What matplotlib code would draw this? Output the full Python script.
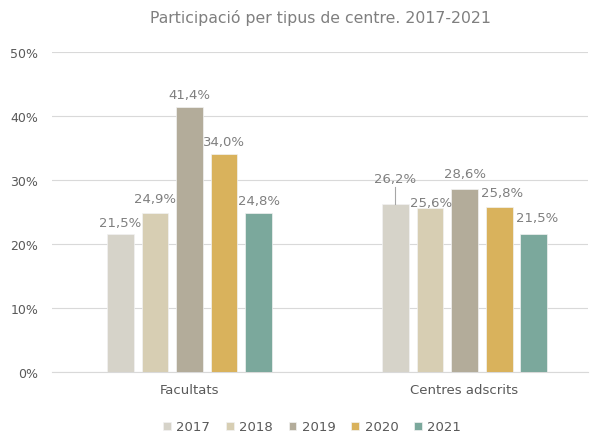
import matplotlib
matplotlib.use("Agg")
import matplotlib.pyplot as plt
import numpy as np

categories = ["Facultats", "Centres adscrits"]
years = ["2017", "2018", "2019", "2020", "2021"]
values = {
    "2017": [21.5, 26.2],
    "2018": [24.9, 25.6],
    "2019": [41.4, 28.6],
    "2020": [34.0, 25.8],
    "2021": [24.8, 21.5],
}
colors = ["#D6D3C9", "#D7CEB3", "#B3AC9A", "#D9B25C", "#7BA89C"]
title = "Participació per tipus de centre. 2017-2021"

# label offsets above bar top (pixels) per [year][category]
label_off = {
    "2017": [(0, 12), (0, 26)],
    "2018": [(0, 14), (1, 6)],
    "2019": [(0, 13), (0, 15)],
    "2020": [(0, 13), (3, 14)],
    "2021": [(0, 13), (4, 17)],
}

plt.rcParams['font.family'] = ['DejaVu Sans']
dpi = 100
fig = plt.figure(figsize=(5.9, 4.35), dpi=dpi)
ax = fig.add_axes([52/590, 1-373/435, 536/590, 320/435])

x = np.arange(len(categories))
pitch = 0.1255
width = 0.098
n = len(years)
px2pt = 72 / dpi
for i, y in enumerate(years):
    xs = x + (i - (n - 1) / 2) * pitch
    vals = np.array(values[y]) / 100
    ax.bar(xs, vals, width, color=colors[i], label=y, zorder=3,
           edgecolor="#F2F2F2", linewidth=0.5)
    for j, (xx, v) in enumerate(zip(xs, vals)):
        dx, dy = label_off[y][j]
        txt = f"{values[y][j]:.1f}%".replace(".", ",")
        ax.annotate(txt, (xx, v), xytext=(dx * px2pt, dy * px2pt),
                    textcoords="offset points", ha="center", va="center",
                    fontsize=9.5, color="#7F7F7F", zorder=4)
        if dy > 20:
            ax.plot([xx, xx], [v, v + (dy - 9) / 640], color="#A6A6A6",
                    lw=0.8, zorder=4)

ax.set_xlim(-0.5, 1.449)
ax.set_ylim(0, 0.5)
ax.set_yticks(np.arange(0, 0.51, 0.1))
ax.set_yticklabels([f"{int(round(t*100))}%" for t in np.arange(0, 0.51, 0.1)])
ax.set_xticks(x)
ax.set_xticklabels(categories)
ax.tick_params(axis="both", length=0, colors="#595959", labelsize=9)
ax.tick_params(axis="x", pad=8, labelsize=9.5)
ax.tick_params(axis="y", pad=10)
ax.grid(axis="y", color="#D9D9D9", lw=0.8, zorder=0)
for s in ["top", "right", "left"]:
    ax.spines[s].set_visible(False)
ax.spines["bottom"].set_color("#D9D9D9")
ax.spines["bottom"].set_linewidth(0.8)

fig.text(320/590, 1-18/435, title, ha="center", va="center", fontsize=11.3,
         color="#7F7F7F")

leg = fig.legend(loc="center", bbox_to_anchor=(312/590, 1-428/435), ncol=5,
                 frameon=False, fontsize=9.5, handlelength=0.6, handleheight=0.6,
                 handletextpad=0.4, columnspacing=1.2)
for t in leg.get_texts():
    t.set_color("#595959")

fig.savefig("out.png", dpi=dpi)
